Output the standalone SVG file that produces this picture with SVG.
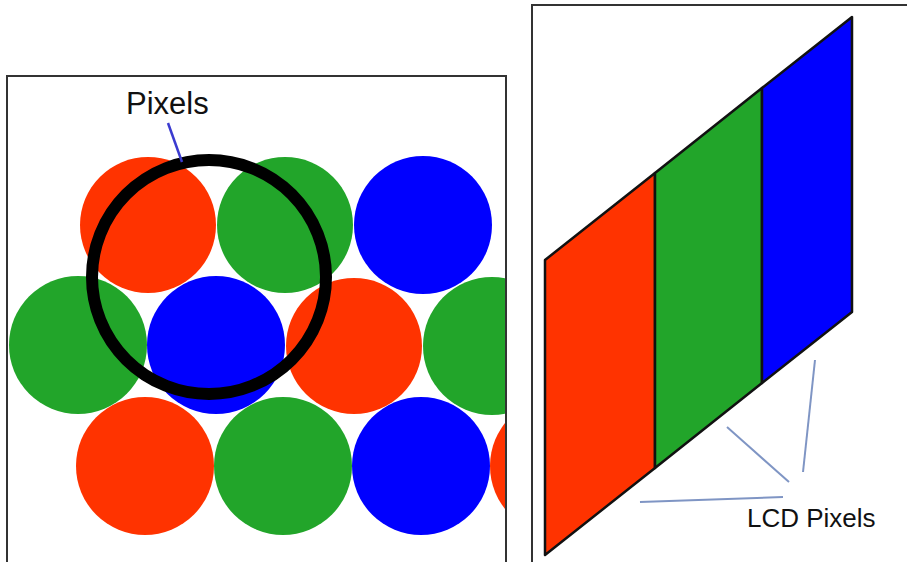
<svg xmlns="http://www.w3.org/2000/svg" width="907" height="562" viewBox="0 0 907 562">
<style>
.frame{fill:#fff;stroke:#333;stroke-width:2}
.r{fill:#ff3300}.g{fill:#22a52a}.b{fill:#0000ff}
.lbl{font-family:"Liberation Sans",Arial,sans-serif;fill:#111}
.lead{stroke:#7f95c4;stroke-width:2;fill:none}
.strip{stroke:#111;stroke-width:2.5;stroke-linejoin:round}
</style>
<defs>
<clipPath id="leftClip"><rect x="8" y="77" width="497" height="490"/></clipPath>
</defs>
<rect width="907" height="562" fill="#fff"/>
<g id="left-panel">
<rect class="frame" x="7" y="76" width="499" height="500"/>
<g clip-path="url(#leftClip)">
<circle class="r" cx="148" cy="225" r="68"/>
<circle class="g" cx="285" cy="225" r="68"/>
<circle class="b" cx="423" cy="225" r="69"/>
<circle class="g" cx="78" cy="345" r="69"/>
<circle class="b" cx="216" cy="345" r="69"/>
<circle class="r" cx="354" cy="346" r="68"/>
<circle class="g" cx="492" cy="346" r="69"/>
<circle class="r" cx="145" cy="466" r="69"/>
<circle class="g" cx="283" cy="466" r="69"/>
<circle class="b" cx="421" cy="466" r="69"/>
<circle class="r" cx="559" cy="466" r="69"/>
</g>
<circle id="ring" cx="209" cy="277" r="117" fill="none" stroke="#000" stroke-width="12"/>
</g>
<g id="right-panel">
<rect class="frame" x="532" y="5" width="390" height="570"/>
<polygon class="strip r" points="545,260 655,173 655,468 545,555"/>
<polygon class="strip g" points="655,173 762,88 762,383 655,468"/>
<polygon class="strip b" points="762,88 852,17 852,312 762,383"/>
</g>
<g id="connectors">
<line x1="168" y1="123" x2="182" y2="162" stroke="#3b3bd0" stroke-width="2.5"/>
<line class="lead" x1="640" y1="502" x2="783" y2="497"/>
<line class="lead" x1="727" y1="427" x2="789" y2="482"/>
<line class="lead" x1="815" y1="360" x2="803" y2="472"/>
</g>
<g id="labels">
<text class="lbl" x="126" y="114" font-size="31">Pixels</text>
<text class="lbl" x="747" y="527" font-size="26">LCD Pixels</text>
</g>
</svg>
